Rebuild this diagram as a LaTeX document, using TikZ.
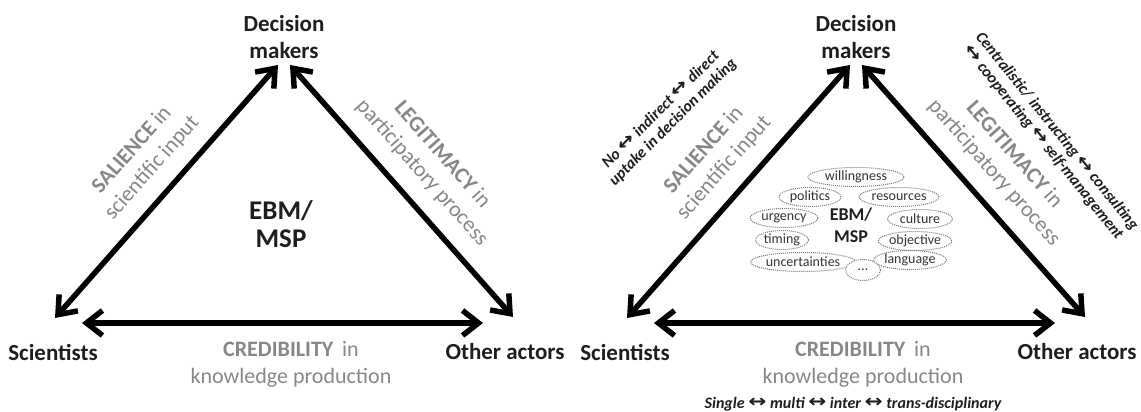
\documentclass[tikz,border=0pt]{standalone}
\usepackage{fontspec}
\usepackage{graphicx}
\setmainfont{Carlito}
\newfontfamily\arrowfont{DejaVu Sans}
\usetikzlibrary{arrows.meta,shapes.geometric}
% a wide, bold left-right arrow for the inline scales
\newcommand\lra{\raisebox{0.05em}{\scalebox{1.35}[1.1]{\arrowfont\bfseries\char"2194}}}
\definecolor{ink}{HTML}{1E1E1E}
\definecolor{labelgrey}{HTML}{878787}
\definecolor{ovalline}{HTML}{7A7A7A}
\definecolor{ovaltext}{HTML}{333333}
\tikzset{
  actor/.style={font=\fontsize{23}{27}\selectfont\bfseries, text=ink, align=center, inner sep=0pt},
  corebig/.style={font=\fontsize{27}{28}\selectfont\bfseries, text=ink, align=center, inner sep=0pt},
  coresmall/.style={font=\fontsize{18}{22}\selectfont\bfseries, text=ink, align=center, inner sep=0pt},
  edgelabel/.style={font=\fontsize{22}{27}\selectfont, text=labelgrey, align=center, inner sep=0pt},
  note/.style={font=\fontsize{16}{17.5}\selectfont\bfseries\itshape, text=ink, align=center, inner sep=0pt},
  oval/.style={ellipse, draw=ovalline, densely dotted, line width=1pt, fill=white, inner sep=0pt,
    minimum height=19pt, font=\fontsize{14}{15}\selectfont, text=ovaltext},
  link/.style={line width=5.5pt, draw=black,
    {Straight Barb[length=16pt,width=25pt]}-{Straight Barb[length=16pt,width=25pt]}}
}
\begin{document}
\begin{tikzpicture}[x=1pt,y=-1pt]
\useasboundingbox (0,0) rectangle (1141,412);

% ---------- left triangle ----------
\node[actor] (dmL)  at (284,37)  {Decision\\makers};
\node[actor] (sciL) at (53,352)  {Scientists};
\node[actor] (othL) at (505,352) {Other actors};
\node[corebig] (coreL) at (281,224) {EBM/\\MSP};

\coordinate (lsL) at (55,318);  \coordinate (ltL) at (278,65);
\coordinate (rtL) at (290,65);  \coordinate (rsL) at (513,317);
\coordinate (hsL) at (82,323);  \coordinate (heL) at (483,323);
\draw[link] (lsL) -- (ltL);
\draw[link] (rtL) -- (rsL);
\draw[link] (hsL) -- (heL);

\node[edgelabel, rotate=48.5]  (salL) at (142,159) {\textbf{SALIENCE} in\\scientific input};
\node[edgelabel, rotate=-48.5] (legL) at (432,164) {\textbf{LEGITIMACY} in\\participatory process};
\node[edgelabel] (creL) at (291,364) {\textbf{CREDIBILITY}\, in\\knowledge production};

% ---------- right triangle ----------
\node[actor] (dmR)  at (856,37)   {Decision\\makers};
\node[actor] (sciR) at (625,352)  {Scientists};
\node[actor] (othR) at (1077,352) {Other actors};

\coordinate (lsR) at (627,318);  \coordinate (ltR) at (850,65);
\coordinate (rtR) at (862,65);   \coordinate (rsR) at (1085,317);
\coordinate (hsR) at (654,323);  \coordinate (heR) at (1055,323);
\draw[link] (lsR) -- (ltR);
\draw[link] (rtR) -- (rsR);
\draw[link] (hsR) -- (heR);

\node[edgelabel, rotate=48.5]  (salR) at (714,159) {\textbf{SALIENCE} in\\scientific input};
\node[edgelabel, rotate=-48.5] (legR) at (1004,164) {\textbf{LEGITIMACY} in\\participatory process};
\node[edgelabel] (creR) at (863,364) {\textbf{CREDIBILITY}\, in\\knowledge production};

\node[note, rotate=45]  (salnote) at (667,116) {No \lra{} indirect \lra{} direct\\uptake in decision making};
\node[note, rotate=-51] (legnote) at (1050,137) {Centralistic/ instructing \lra{} consulting\\\lra{} cooperating \lra{} self-management};
\node[note] (crenote) at (853,404) {Single \lra{} multi \lra{} inter \lra{} trans-disciplinary};

% context factors around the core
\node[oval, minimum width=96pt] (willingness)   at (856,177) {willingness};
\node[oval, minimum width=62pt] (politics)      at (810,197) {politics};
\node[oval, minimum width=80pt] (resources)     at (899,197) {resources};
\node[oval, minimum width=68pt] (urgency)       at (784,218) {urgency};
\node[oval, minimum width=65pt] (culture)       at (920,219) {culture};
\node[oval, minimum width=53pt] (timing)        at (782,240) {timing};
\node[oval, minimum width=72pt] (objective)     at (915,241) {objective};
\node[oval, minimum width=105pt] (uncertainties) at (803,262) {uncertainties};
\node[oval, minimum width=72pt] (language)      at (910,260) {language};
\node[oval, minimum width=35pt, minimum height=21pt] (more) at (863,270) {...};
\node[coresmall] (coreR) at (851,225) {EBM/\\MSP};
\end{tikzpicture}
\end{document}
